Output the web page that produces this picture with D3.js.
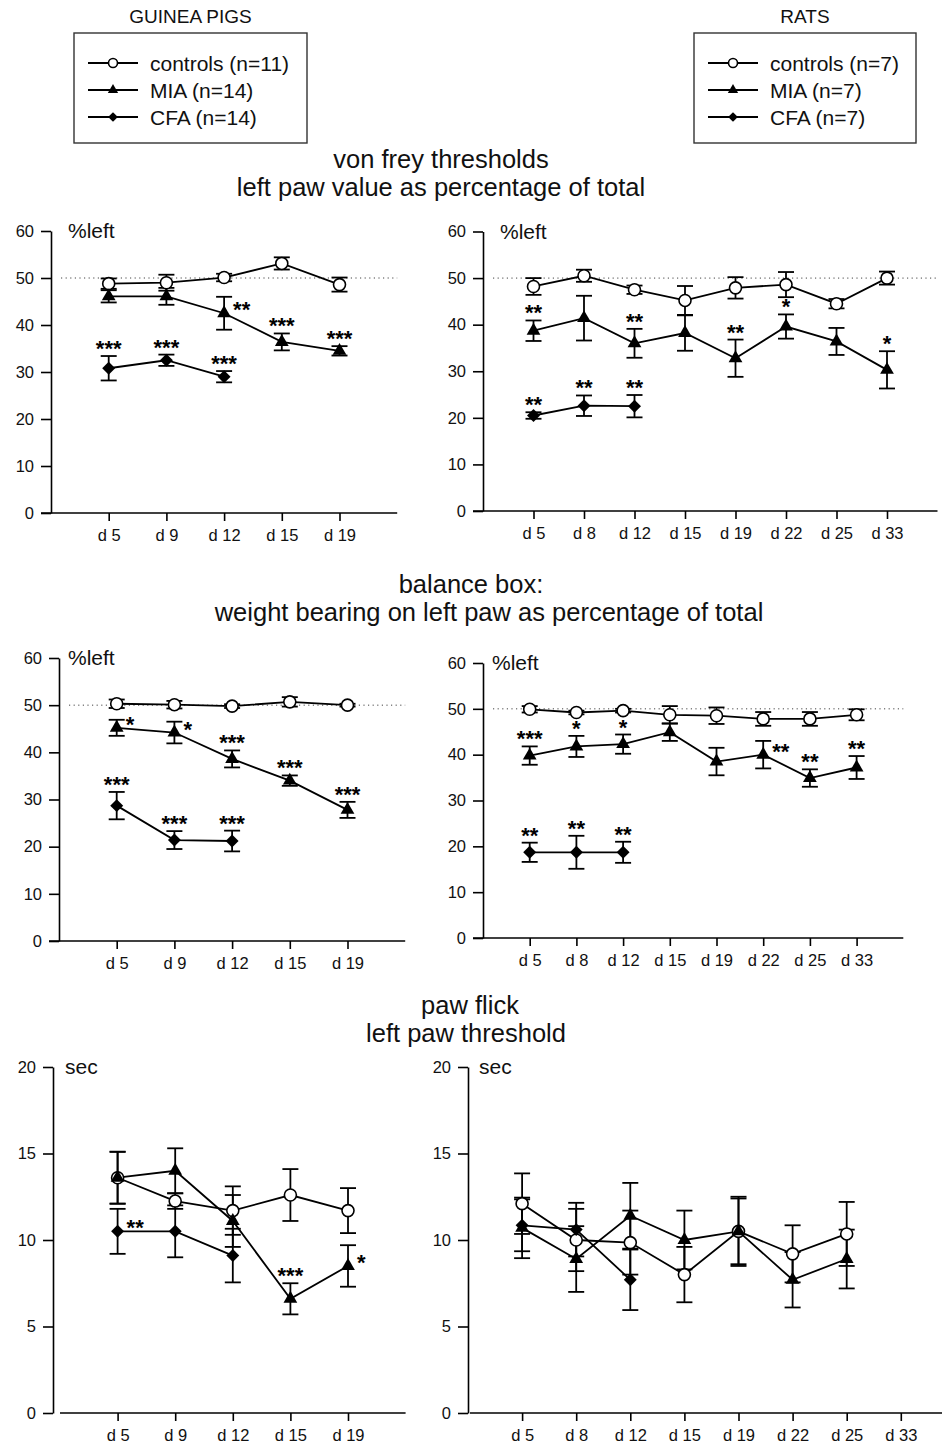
<!DOCTYPE html>
<html>
<head>
<meta charset="utf-8">
<script src="https://cdn.jsdelivr.net/npm/d3@7"></script>
<style>
  body { margin: 0; background: #fff; }
  svg { display: block; font-family: "Liberation Sans", Arial, Helvetica, sans-serif; }
</style>
</head>
<body>
<div id="chart"></div>
<script>
// ---- data ----
const gpDays = ["d 5", "d 9", "d 12", "d 15", "d 19"];
const ratDays = ["d 5", "d 8", "d 12", "d 15", "d 19", "d 22", "d 25", "d 33"];

const gpLegend = ["controls (n=11)", "MIA (n=14)", "CFA (n=14)"];
const ratLegend = ["controls (n=7)", "MIA (n=7)", "CFA (n=7)"];

const sectionTitles = [
  ["von frey thresholds", "left paw value as percentage of total"],
  ["balance box:", "weight bearing on left paw as percentage of total"],
  ["paw flick", "left paw threshold"],
];

// von frey, guinea pigs
const gpVfControls = [48.8, 49.0, 50.1, 53.1, 48.6];
const gpVfControlsErr = [1.1, 1.7, 0.8, 1.3, 1.5];
const gpVfMia = [46.1, 46.1, 42.5, 36.4, 34.5];
const gpVfMiaErr = [1.3, 1.8, 3.5, 1.8, 1.0];
const gpVfMiaSig = ["", "", "**", "***", "***"];
const gpVfMiaSigRight = [2];
const gpVfCfa = [30.8, 32.5, 29.0];
const gpVfCfaErr = [2.6, 1.2, 1.2];
const gpVfCfaSig = ["***", "***", "***"];

// von frey, rats
const ratVfControls = [48.2, 50.5, 47.5, 45.2, 47.9, 48.6, 44.5, 50.0];
const ratVfControlsErr = [1.8, 1.3, 0.9, 3.1, 2.3, 2.7, 1.0, 1.4];
const ratVfMia = [38.7, 41.4, 36.0, 38.2, 32.8, 39.6, 36.4, 30.3];
const ratVfMiaErr = [2.2, 4.8, 3.1, 3.8, 4.0, 2.6, 2.9, 4.0];
const ratVfMiaSig = ["**", "", "**", "", "**", "*", "", "*"];
const ratVfCfa = [20.5, 22.6, 22.5];
const ratVfCfaErr = [0.7, 2.2, 2.4];
const ratVfCfaSig = ["**", "**", "**"];

// balance box, guinea pigs
const gpBbControls = [50.3, 50.1, 49.8, 50.7, 50.0];
const gpBbControlsErr = [0.9, 0.8, 0.4, 1.0, 0.3];
const gpBbMia = [45.2, 44.2, 38.6, 34.0, 27.8];
const gpBbMiaErr = [1.7, 2.3, 1.8, 1.1, 1.7];
const gpBbMiaSig = ["*", "*", "***", "***", "***"];
const gpBbMiaSigRight = [0, 1];
const gpBbCfa = [28.7, 21.4, 21.2];
const gpBbCfaErr = [2.9, 1.9, 2.2];
const gpBbCfaSig = ["***", "***", "***"];

// balance box, rats
const ratBbControls = [49.9, 49.2, 49.6, 48.7, 48.5, 47.8, 47.8, 48.7];
const ratBbControlsErr = [0.7, 0.4, 0.4, 1.9, 1.8, 1.5, 1.5, 1.2];
const ratBbMia = [39.8, 41.8, 42.3, 44.9, 38.5, 40.0, 34.9, 37.2];
const ratBbMiaErr = [2.0, 2.3, 2.1, 1.9, 3.0, 3.0, 1.9, 2.5];
const ratBbMiaSig = ["***", "*", "*", "", "", "**", "**", "**"];
const ratBbMiaSigRight = [5];
const ratBbCfa = [18.7, 18.7, 18.7];
const ratBbCfaErr = [2.1, 3.6, 2.3];
const ratBbCfaSig = ["**", "**", "**"];

// paw flick, guinea pigs
const gpPfControls = [13.6, 12.25, 11.7, 12.6, 11.7];
const gpPfControlsErr = [1.5, 0.45, 1.4, 1.5, 1.3];
const gpPfMia = [13.6, 14.0, 11.1, 6.6, 8.5];
const gpPfMiaErr = [1.5, 1.3, 1.5, 0.9, 1.2];
const gpPfMiaSig = ["", "", "", "***", "*"];
const gpPfMiaSigRight = [4];
const gpPfCfa = [10.5, 10.5, 9.1];
const gpPfCfaErr = [1.3, 1.5, 1.55];
const gpPfCfaSig = ["**", "", ""];
const gpPfCfaSigRight = [0];

// paw flick, rats
const ratPfControls = [12.1, 10.0, 9.85, 8.0, 10.5, 9.2, 10.35];
const ratPfControlsErr = [1.75, 1.8, 1.85, 1.6, 2.0, 1.65, 1.85];
const ratPfMia = [10.7, 8.9, 11.4, 10.0, 10.5, 7.7, 8.9];
const ratPfMiaErr = [1.75, 1.9, 1.9, 1.7, 1.9, 1.6, 1.7];
const ratPfCfa = [10.85, 10.6, 7.7];
const ratPfCfaErr = [1.5, 1.55, 1.75];

// ---- drawing ----
const width = 942, height = 1449;
const svg = d3.select("#chart").append("svg")
  .attr("width", width)
  .attr("height", height);

function marker(sel, shape, k) {
  if (shape === "circle") {
    sel.append("circle").attr("r", 6 * k)
      .attr("fill", "#fff").attr("stroke", "#000").attr("stroke-width", 1.6);
  } else if (shape === "triangle") {
    sel.append("path").attr("d", d3.symbol(d3.symbolTriangle, 82 * k * k)())
      .attr("fill", "#000");
  } else {
    sel.append("path").attr("d", d3.symbol(d3.symbolSquare, 84 * k * k)())
      .attr("transform", "rotate(45)")
      .attr("fill", "#000");
  }
}

function drawPanel(p) {
  const g = svg.append("g");
  const n = p.days.length;
  const xEnd = p.x0 + p.step * (n + 1);

  const y = d3.scaleLinear().domain([0, p.yMax]).range([p.yBot, p.yTop]);
  const x = d3.scalePoint().domain(p.days).range([p.x0, xEnd]).padding(1);

  // y axis
  const ya = g.append("g")
    .attr("transform", `translate(${p.axisX},0)`)
    .call(d3.axisLeft(y)
      .tickValues(d3.range(0, p.yMax + 1, p.yStep))
      .tickSize(10).tickPadding(7).tickSizeOuter(0));
  ya.selectAll("path, line").attr("stroke", "#000").attr("stroke-width", 1.6);
  ya.selectAll("text").attr("font-size", 16.5).attr("fill", "#111");

  // x axis
  const xa = g.append("g")
    .attr("transform", `translate(0,${p.yBot})`)
    .call(d3.axisBottom(x).tickSize(8).tickPadding(8).tickSizeOuter(0));
  xa.select(".domain").remove();
  xa.selectAll("line").attr("stroke", "#000").attr("stroke-width", 1.6);
  xa.selectAll("text").attr("font-size", 16.5).attr("fill", "#111");
  g.append("line")
    .attr("x1", p.xStart).attr("x2", xEnd)
    .attr("y1", p.yBot).attr("y2", p.yBot)
    .attr("stroke", "#000").attr("stroke-width", 1.6);

  // axis unit label
  g.append("text")
    .attr("x", p.axisX + p.labelDx).attr("y", p.yTop + 7)
    .attr("font-size", 21).attr("fill", "#111")
    .text(p.yLabel);

  // 50% reference
  if (p.ref50) {
    g.append("line")
      .attr("x1", p.axisX + 10).attr("x2", xEnd)
      .attr("y1", y(50)).attr("y2", y(50))
      .attr("stroke", "#444").attr("stroke-width", 1)
      .attr("stroke-dasharray", "1.2,3.4");
  }

  const line = d3.line().x((d, i) => x(p.days[i])).y(d => y(d));

  // lines and error bars
  p.series.forEach(s => {
    g.append("path").datum(s.values)
      .attr("d", line)
      .attr("fill", "none").attr("stroke", "#000").attr("stroke-width", 1.8);

    const eb = g.append("g").selectAll("g")
      .data(s.values).join("g")
      .attr("transform", (d, i) => `translate(${x(p.days[i])},0)`);
    eb.append("line")
      .attr("y1", (d, i) => y(d - s.errors[i])).attr("y2", (d, i) => y(d + s.errors[i]));
    eb.append("line")
      .attr("x1", -8).attr("x2", 8)
      .attr("y1", (d, i) => y(d + s.errors[i])).attr("y2", (d, i) => y(d + s.errors[i]));
    eb.append("line")
      .attr("x1", -8).attr("x2", 8)
      .attr("y1", (d, i) => y(d - s.errors[i])).attr("y2", (d, i) => y(d - s.errors[i]));
    eb.selectAll("line").attr("stroke", "#000").attr("stroke-width", 1.8);
  });

  // markers
  p.series.forEach(s => {
    g.append("g").selectAll("g")
      .data(s.values).join("g")
      .attr("transform", (d, i) => `translate(${x(p.days[i])},${y(d)})`)
      .each(function () { marker(d3.select(this), s.shape, 1); });
  });

  // significance stars
  p.series.forEach(s => {
    if (!s.sig) return;
    s.sig.forEach((t, i) => {
      if (!t) return;
      const px = x(p.days[i]);
      const right = (s.sigRight || []).includes(i);
      g.append("text")
        .attr("x", right ? px + 9 : px)
        .attr("y", right ? y(s.values[i]) + 4 : y(s.values[i] + s.errors[i]))
        .attr("text-anchor", right ? "start" : "middle")
        .attr("font-size", 22).attr("font-weight", "bold").attr("fill", "#000")
        .text(t);
    });
  });
}

function series(shape, values, errors, sig, sigRight) {
  return { shape, values, errors, sig, sigRight };
}

const panels = [
  { days: gpDays, yMax: 60, yStep: 10, yLabel: "%left", ref50: true,
    axisX: 51, x0: 51, step: 57.7, yTop: 231, yBot: 513, xStart: 41, labelDx: 17,
    series: [
      series("circle", gpVfControls, gpVfControlsErr),
      series("triangle", gpVfMia, gpVfMiaErr, gpVfMiaSig, gpVfMiaSigRight),
      series("diamond", gpVfCfa, gpVfCfaErr, gpVfCfaSig),
    ] },
  { days: ratDays, yMax: 60, yStep: 10, yLabel: "%left", ref50: true,
    axisX: 483, x0: 483, step: 50.5, yTop: 231.5, yBot: 511, xStart: 473, labelDx: 17,
    series: [
      series("circle", ratVfControls, ratVfControlsErr),
      series("triangle", ratVfMia, ratVfMiaErr, ratVfMiaSig),
      series("diamond", ratVfCfa, ratVfCfaErr, ratVfCfaSig),
    ] },
  { days: gpDays, yMax: 60, yStep: 10, yLabel: "%left", ref50: true,
    axisX: 59, x0: 59, step: 57.7, yTop: 658, yBot: 941, xStart: 49, labelDx: 9,
    series: [
      series("circle", gpBbControls, gpBbControlsErr),
      series("triangle", gpBbMia, gpBbMiaErr, gpBbMiaSig, gpBbMiaSigRight),
      series("diamond", gpBbCfa, gpBbCfaErr, gpBbCfaSig),
    ] },
  { days: ratDays, yMax: 60, yStep: 10, yLabel: "%left", ref50: true,
    axisX: 483, x0: 483, step: 46.7, yTop: 663, yBot: 938, xStart: 473, labelDx: 9,
    series: [
      series("circle", ratBbControls, ratBbControlsErr),
      series("triangle", ratBbMia, ratBbMiaErr, ratBbMiaSig, ratBbMiaSigRight),
      series("diamond", ratBbCfa, ratBbCfaErr, ratBbCfaSig),
    ] },
  { days: gpDays, yMax: 20, yStep: 5, yLabel: "sec", ref50: false,
    axisX: 53, x0: 60, step: 57.6, yTop: 1067, yBot: 1413, xStart: 60, labelDx: 12,
    series: [
      series("circle", gpPfControls, gpPfControlsErr),
      series("triangle", gpPfMia, gpPfMiaErr, gpPfMiaSig, gpPfMiaSigRight),
      series("diamond", gpPfCfa, gpPfCfaErr, gpPfCfaSig, gpPfCfaSigRight),
    ] },
  { days: ratDays, yMax: 20, yStep: 5, yLabel: "sec", ref50: false,
    axisX: 468, x0: 468, step: 54.1, yTop: 1067, yBot: 1413, xStart: 470, labelDx: 11,
    series: [
      series("circle", ratPfControls, ratPfControlsErr),
      series("triangle", ratPfMia, ratPfMiaErr),
      series("diamond", ratPfCfa, ratPfCfaErr),
    ] },
];

panels.forEach(drawPanel);

// section titles (each line placed where it sits in the figure)
const titleBase = [168, 593, 1014];
const titleCenters = [[441, 441], [471, 489], [470, 466]];
sectionTitles.forEach((lines, k) => {
  lines.forEach((t, j) => {
    svg.append("text")
      .attr("x", titleCenters[k][j]).attr("y", titleBase[k] + j * 28)
      .attr("text-anchor", "middle")
      .attr("font-size", 25.5).attr("fill", "#111")
      .text(t);
  });
});

// legends
function drawLegend(left, right, title, labels) {
  const g = svg.append("g");
  g.append("text")
    .attr("x", (left + right) / 2).attr("y", 23)
    .attr("text-anchor", "middle")
    .attr("font-size", 19).attr("fill", "#111")
    .text(title);
  g.append("rect")
    .attr("x", left).attr("y", 33)
    .attr("width", right - left).attr("height", 110)
    .attr("fill", "none").attr("stroke", "#333").attr("stroke-width", 1.4);
  const shapes = ["circle", "triangle", "diamond"];
  labels.forEach((t, i) => {
    const cy = 63 + i * 27;
    g.append("line")
      .attr("x1", left + 14).attr("x2", left + 64)
      .attr("y1", cy).attr("y2", cy)
      .attr("stroke", "#000").attr("stroke-width", 1.8);
    const m = g.append("g").attr("transform", `translate(${left + 39},${cy})`);
    marker(m, shapes[i], 0.75);
    g.append("text")
      .attr("x", left + 76).attr("y", cy)
      .attr("dy", "0.36em")
      .attr("font-size", 21).attr("fill", "#111")
      .text(t);
  });
}

drawLegend(74, 307, "GUINEA PIGS", gpLegend);
drawLegend(694, 916, "RATS", ratLegend);
</script>
</body>
</html>
